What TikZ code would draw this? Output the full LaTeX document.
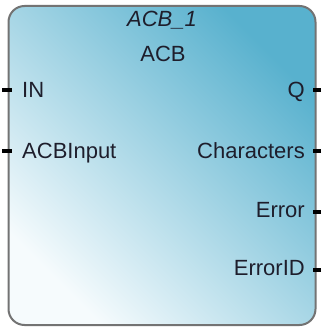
\documentclass[tikz,border=0pt]{standalone}
\usepackage{fontspec}
\setmainfont{Liberation Sans}
\usetikzlibrary{positioning}
\definecolor{fbdark}{HTML}{58B1CE}
\definecolor{fbmid}{HTML}{B2D9E7}
\definecolor{fblight}{HTML}{F6FBFD}
\definecolor{fbedge}{HTML}{737373}
\definecolor{fbtext}{HTML}{1E1E2C}
\newcommand{\fbfont}{\fontsize{22}{26}\selectfont}

\begin{document}
\begin{tikzpicture}[x=1pt,y=-1pt,
  block/.style={draw=fbedge,line width=2pt,rounded corners=16pt,
    minimum width=307pt,minimum height=319pt,
    top color=fbdark,middle color=fbmid,bottom color=fblight,shading angle=-45},
  pinline/.style={line width=4pt,black},
  lbl/.style={font=\fbfont,text=fbtext,inner sep=0pt}]
  \useasboundingbox (0,0) rectangle (321,329);
  \node[block] (blk) at (162,165.5) {};
  \node[lbl,font=\fbfont\itshape,anchor=base] (inst) at (162,27) {ACB\_1};
  \node[lbl,anchor=base] (type) at (163,61) {ACB};
  % inputs
  \node[lbl,anchor=base west] (in) at (22,97) {IN};
  \node[lbl,anchor=base west] (acbin) at (22,158) {ACBInput};
  % outputs
  \node[lbl,anchor=base east] (q) at (305,97) {Q};
  \node[lbl,anchor=base east] (chars) at (305,158) {Characters};
  \node[lbl,anchor=base east] (err) at (305,217) {Error};
  \node[lbl,anchor=base east] (errid) at (305,275) {ErrorID};
  % pins
  \coordinate (pin1) at (2,90);
  \coordinate (pin2) at (2,151);
  \coordinate (pin3) at (321,90);
  \coordinate (pin4) at (321,151);
  \coordinate (pin5) at (321,212);
  \coordinate (pin6) at (321,270);
  \draw[pinline] (pin1) -- (blk.west |- pin1) -- ++(4,0);
  \draw[pinline] (pin2) -- (blk.west |- pin2) -- ++(4,0);
  \draw[pinline] (pin3) -- (blk.east |- pin3) -- ++(-4,0);
  \draw[pinline] (pin4) -- (blk.east |- pin4) -- ++(-4,0);
  \draw[pinline] (pin5) -- (blk.east |- pin5) -- ++(-4,0);
  \draw[pinline] (pin6) -- (blk.east |- pin6) -- ++(-4,0);
\end{tikzpicture}
\end{document}
